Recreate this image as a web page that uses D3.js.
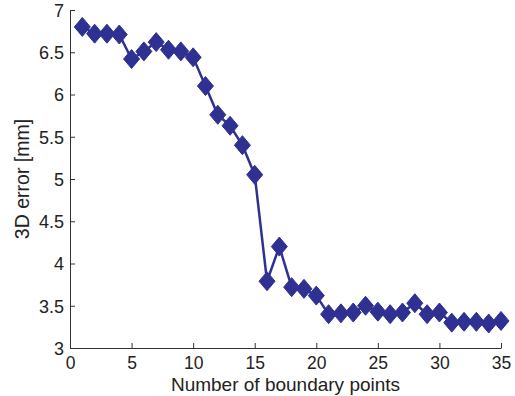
<!DOCTYPE html>
<html>
<head>
<meta charset="utf-8">
<script src="https://cdn.jsdelivr.net/npm/d3@7"></script>
<style>
  body { margin: 0; background: #fff; }
  text { font-family: "Liberation Sans", Arial, sans-serif; fill: #222; }
</style>
</head>
<body>
<div id="chart"></div>
<script>
// boundary point counts and the measured 3D error
const points = d3.range(1, 36);
const errors = [6.80, 6.72, 6.72, 6.71, 6.42, 6.51, 6.62, 6.53, 6.51, 6.44,
                6.10, 5.76, 5.63, 5.40, 5.05, 3.79, 4.20, 3.72, 3.70, 3.62,
                3.40, 3.41, 3.42, 3.50, 3.43, 3.40, 3.42, 3.53, 3.40, 3.42,
                3.30, 3.31, 3.31, 3.29, 3.32];
const xTicks = [0, 5, 10, 15, 20, 25, 30, 35];
const yTicks = [3, 3.5, 4, 4.5, 5, 5.5, 6, 6.5, 7];

const width = 515, height = 396;
const margin = {top: 10, right: 14, bottom: 48, left: 70};

const svg = d3.select('#chart').append('svg')
  .attr('width', width)
  .attr('height', height);

const x = d3.scaleLinear().domain([0, 35]).range([margin.left, width - margin.right]);
const y = d3.scaleLinear().domain([3, 7]).range([height - margin.bottom, margin.top]);

// axes: ticks point inward like matlab
const xAxis = svg.append('g')
  .attr('transform', 'translate(0,' + y(3) + ')')
  .call(d3.axisBottom(x).tickValues(xTicks).tickSizeInner(-5).tickSizeOuter(0).tickPadding(9));
const yAxis = svg.append('g')
  .attr('transform', 'translate(' + x(0) + ',0)')
  .call(d3.axisLeft(y).tickValues(yTicks).tickFormat(d3.format('')).tickSizeInner(-5).tickSizeOuter(0).tickPadding(6));

[xAxis, yAxis].forEach(g => {
  g.selectAll('path, line').attr('stroke', '#333').attr('stroke-width', 1);
  g.selectAll('text').style('font-size', '18px').attr('fill', '#222');
});
xAxis.selectAll('text').style('font-size', '17.5px');
yAxis.selectAll('text').attr('dy', '0.35em');

// line + diamond markers
const data = points.map((p, i) => ({p: p, e: errors[i]}));
const color = '#2e3192';

svg.append('path')
  .datum(data)
  .attr('fill', 'none')
  .attr('stroke', color)
  .attr('stroke-width', 2.5)
  .attr('d', d3.line().x(d => x(d.p)).y(d => y(d.e)));

svg.selectAll('.marker')
  .data(data)
  .enter()
  .append('path')
  .attr('class', 'marker')
  .attr('d', 'M0,-9.5L8,0L0,9.5L-8,0Z')
  .attr('transform', d => 'translate(' + x(d.p) + ',' + y(d.e) + ')')
  .attr('fill', color)
  .attr('stroke', color)
  .attr('stroke-width', 1);

// labels
svg.append('text')
  .attr('x', (x(0) + x(35)) / 2)
  .attr('y', 391)
  .attr('text-anchor', 'middle')
  .style('font-size', '19px')
  .text('Number of boundary points');

svg.append('text')
  .attr('transform', 'translate(29,' + (y(3) + y(7)) / 2 + ') rotate(-90)')
  .attr('text-anchor', 'middle')
  .style('font-size', '19.5px')
  .text('3D error [mm]');
</script>
</body>
</html>
